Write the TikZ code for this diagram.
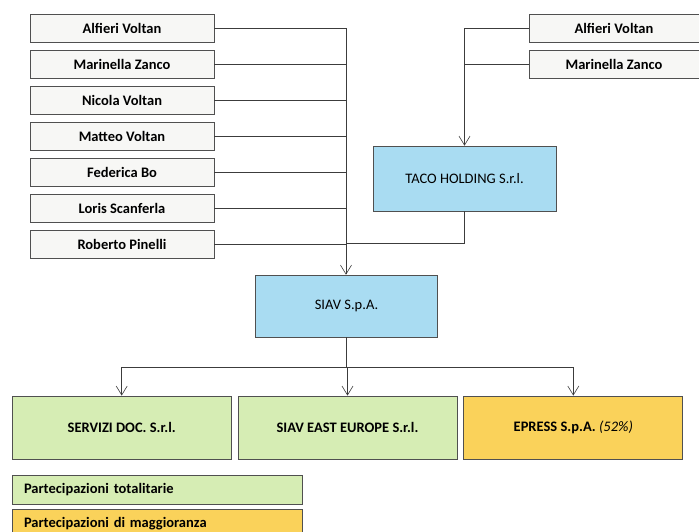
\documentclass[tikz,border=0pt]{standalone}
\usepackage{fontspec}
\setmainfont{Carlito}
\usetikzlibrary{positioning}
\usetikzlibrary{arrows.meta}

\definecolor{boxgray}{HTML}{505050}
\definecolor{linegray}{HTML}{3C3C3C}
\definecolor{paperwhite}{HTML}{F7F7F5}
\definecolor{holdblue}{HTML}{A9DCF2}
\definecolor{fullgreen}{HTML}{D6EDB4}
\definecolor{majyellow}{HTML}{FAD25A}

\tikzset{
  person/.style={draw=boxgray, fill=paperwhite, line width=0.8pt, inner sep=0pt,
    minimum width=184pt, minimum height=28pt, font=\fontsize{14.5}{17}\selectfont\bfseries},
  holding/.style={draw=boxgray, fill=holdblue, line width=0.6pt, inner sep=0pt,
    minimum width=182pt, font=\fontsize{14.5}{17}\selectfont},
  subsid/.style={draw=boxgray, line width=0.8pt, inner sep=0pt,
    minimum width=219pt, minimum height=63pt, font=\fontsize{14.5}{17}\selectfont\bfseries},
  legend/.style={draw=boxgray, line width=0.8pt, inner sep=0pt, text width=266pt,
    minimum width=290pt, minimum height=29pt, align=left, font=\fontsize{14.5}{17}\selectfont\bfseries},
  link/.style={draw=linegray, line width=0.6pt},
  feed/.style={link, -{Straight Barb[length=9pt,width=11pt,line width=0.6pt]}},
}

\begin{document}
\begin{tikzpicture}[x=1pt, y=-1pt, node distance=7.2pt]
    \useasboundingbox (0,0) rectangle (699,531) ; %

    % shareholders of SIAV
    \node[person] (alfieri) at (122,28) {Alfieri Voltan} ; %
    \node[person, below=of alfieri] (marinella) {Marinella Zanco} ; %
    \node[person, below=of marinella] (nicola) {Nicola Voltan} ; %
    \node[person, below=of nicola] (matteo) {Matteo Voltan} ; %
    \node[person, below=of matteo] (federica) {Federica Bo} ; %
    \node[person, below=of federica] (loris) {Loris Scanferla} ; %
    \node[person, below=of loris] (roberto) {Roberto Pinelli} ; %

    % shareholders of TACO
    \node[person, minimum width=170pt] (alfieri_t) at (614,28) {Alfieri Voltan} ; %
    \node[person, minimum width=170pt, below=of alfieri_t] (marinella_t) {Marinella Zanco} ; %

    \node[holding, minimum width=183pt, minimum height=65pt] (taco) at (464.5,178.5) {TACO HOLDING S.r.l.} ; %
    \node[holding, minimum height=62pt] (siav) at (346.5,306) {SIAV S.p.A.} ; %

    % subsidiaries
    \node[subsid, fill=fullgreen] (east) at (347.5,427.5) {SIAV EAST EUROPE S.r.l.} ; %
    \node[subsid, fill=fullgreen, left=6pt of east] (servizi) {SERVIZI DOC. S.r.l.} ; %
    \node[subsid, fill=majyellow, right=6pt of east] (epress) {EPRESS S.p.A. \textit{\mdseries(52\%)}} ; %

    % legend
    \node[legend, fill=fullgreen] (leg_full) at (157,490) {Partecipazioni totalitarie} ; %
    \node[legend, fill=majyellow, below=4pt of leg_full] (leg_major) {Partecipazioni di maggioranza} ; %

    \coordinate (join_siav) at (346,243) ; %
    \coordinate (split) at (346,367) ; %

    \draw[link] (alfieri.east) -| (join_siav) ; %
    \foreach \p in {marinella,nicola,matteo,federica,loris,roberto}
        \draw[link] (\p.east) -- (\p.east -| join_siav) ; %
    \draw[link] (taco.south) |- (join_siav) ; %
    \draw[feed] (join_siav) -- (join_siav |- siav.north) ; %

    \draw[feed] (alfieri_t.west) -| (taco.north) ; %
    \draw[link] (marinella_t.west) -- (marinella_t.west -| taco.north) ; %

    \draw[link] (split |- siav.south) -- (split) ; %
    \draw[link] (split -| servizi.north) -- (split -| epress.north) ; %
    \foreach \s in {servizi,east,epress}
        \draw[feed] (split -| \s.north) -- (\s.north) ; %

\end{tikzpicture}
\end{document}
